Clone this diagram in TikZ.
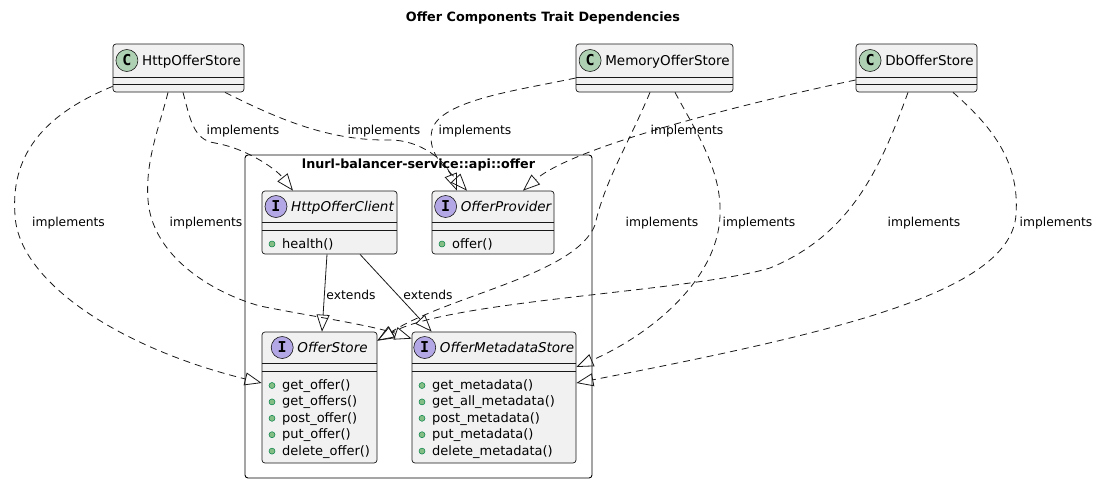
\documentclass[tikz,border=0pt]{standalone}
\usepackage{fontspec}
\setmainfont{DejaVu Sans}
\setmonofont{DejaVu Sans Mono}
\usetikzlibrary{arrows.meta,calc}
\definecolor{ink}{HTML}{181818}
\definecolor{boxfill}{HTML}{F1F1F1}
\definecolor{cgreen}{HTML}{ADD1B2}
\definecolor{ipurple}{HTML}{B4A7E5}
\definecolor{mfill}{HTML}{84BE84}
\definecolor{mdraw}{HTML}{038048}
\tikzset{
  umlbox/.style={draw=ink, fill=boxfill, line width=0.7pt, rounded corners=3pt, inner sep=0pt},
  pkgbox/.style={draw=black, line width=0.9pt, rounded corners=3pt, inner sep=0pt},
  sepline/.style={draw=ink, line width=0.6pt},
  hdrtxt/.style={inner sep=0pt, font=\fontsize{13.5}{16}\selectfont},
  icon/.style={circle, draw=ink, line width=0.6pt, minimum size=22pt, inner sep=0pt, font=\ttfamily\bfseries\fontsize{15}{15}\selectfont},
  methtxt/.style={inner sep=0pt, anchor=base west, font=\fontsize{13}{16}\selectfont},
  bullet/.style={circle, fill=mfill, draw=mdraw, line width=0.5pt, minimum size=6pt, inner sep=0pt},
  lbl/.style={inner sep=0pt, font=\fontsize{12.3}{15}\selectfont},
  realize/.style={draw=ink, line width=0.8pt, dash pattern=on 7pt off 5pt, -{Triangle[open,length=17pt,width=13pt]}},
  extend/.style={draw=ink, line width=0.8pt, -{Triangle[open,length=17pt,width=13pt]}}
}
% header: name, xcenter, baseline, letter, fill, text
\newcommand{\umlhdr}[6]{%
  \node[hdrtxt, anchor=base] (#1) at (#2+13, #3) {#6};
  \node[icon, fill=#5] (#1i) at ($(#1.base west)+(-15,-5)$) {#4};
}
% method: name, box west x, baseline, text
\newcommand{\umlmeth}[4]{%
  \node[methtxt] (#1) at (#2+20, #3) {#4};
  \node[bullet] (#1b) at (#2+10, #3-4) {};
}
\begin{document}
\begin{tikzpicture}[x=1pt,y=-1pt]
\useasboundingbox (0,0) rectangle (1100,483);

% title
\node[inner sep=0pt, font=\bfseries\fontsize{12.8}{15}\selectfont] (title) at (543,18) {Offer Components Trait Dependencies};

% package
\node[pkgbox, minimum width=347pt, minimum height=323pt] (pkg) at (418.5,316.5) {};
\node[inner sep=0pt, font=\bfseries\fontsize{12.7}{15}\selectfont] (pkgT) at (418.5,165) {lnurl-balancer-service::api::offer};

% classes
\node[umlbox, minimum width=131pt, minimum height=48pt] (hos) at (178.5,68) {};
\draw[sepline] (hos.west |- 0,77) -- (hos.east |- 0,77);
\draw[sepline] (hos.west |- 0,84) -- (hos.east |- 0,84);
\umlhdr{hosN}{178.5}{65.5}{C}{cgreen}{HttpOfferStore}

\node[umlbox, minimum width=157pt, minimum height=48pt] (mos) at (654.5,68) {};
\draw[sepline] (mos.west |- 0,77) -- (mos.east |- 0,77);
\draw[sepline] (mos.west |- 0,84) -- (mos.east |- 0,84);
\umlhdr{mosN}{654.5}{65.5}{C}{cgreen}{MemoryOfferStore}

\node[umlbox, minimum width=121pt, minimum height=48pt] (dbs) at (916.5,68) {};
\draw[sepline] (dbs.west |- 0,77) -- (dbs.east |- 0,77);
\draw[sepline] (dbs.west |- 0,84) -- (dbs.east |- 0,84);
\umlhdr{dbsN}{916.5}{65.5}{C}{cgreen}{DbOfferStore}

% interfaces
\node[umlbox, minimum width=135pt, minimum height=63pt] (hoc) at (329.5,222.5) {};
\draw[sepline] (hoc.west |- 0,222) -- (hoc.east |- 0,222);
\draw[sepline] (hoc.west |- 0,230) -- (hoc.east |- 0,230);
\umlhdr{hocN}{329.5}{211.5}{I}{ipurple}{\itshape HttpOfferClient}
\umlmeth{hocM}{262}{248}{health()}

\node[umlbox, minimum width=122pt, minimum height=63pt] (op) at (493,222.5) {};
\draw[sepline] (op.west |- 0,222) -- (op.east |- 0,222);
\draw[sepline] (op.west |- 0,230) -- (op.east |- 0,230);
\umlhdr{opN}{493}{211.5}{I}{ipurple}{\itshape OfferProvider}
\umlmeth{opM}{432}{248}{offer()}

\node[umlbox, minimum width=115pt, minimum height=131pt] (os) at (319.5,397.5) {};
\draw[sepline] (os.west |- 0,363) -- (os.east |- 0,363);
\draw[sepline] (os.west |- 0,371) -- (os.east |- 0,371);
\umlhdr{osN}{319.5}{352.5}{I}{ipurple}{\itshape OfferStore}
\umlmeth{osM1}{262}{389.5}{get\_offer()}
\umlmeth{osM2}{262}{405.9}{get\_offers()}
\umlmeth{osM3}{262}{422.3}{post\_offer()}
\umlmeth{osM4}{262}{438.7}{put\_offer()}
\umlmeth{osM5}{262}{455.1}{delete\_offer()}

\node[umlbox, minimum width=164pt, minimum height=131pt] (oms) at (494,397.5) {};
\draw[sepline] (oms.west |- 0,363) -- (oms.east |- 0,363);
\draw[sepline] (oms.west |- 0,371) -- (oms.east |- 0,371);
\umlhdr{omsN}{494}{352.5}{I}{ipurple}{\itshape OfferMetadataStore}
\umlmeth{omsM1}{412}{389.5}{get\_metadata()}
\umlmeth{omsM2}{412}{405.9}{get\_all\_metadata()}
\umlmeth{omsM3}{412}{422.3}{post\_metadata()}
\umlmeth{omsM4}{412}{438.7}{put\_metadata()}
\umlmeth{omsM5}{412}{455.1}{delete\_metadata()}

% realizations
\draw[realize] ([yshift=6pt]hos.south west) .. controls (50,112) and (10,150) .. (15,215)
  .. controls (18,280) and (116,347) .. ([yshift=14.5pt]os.west);
\draw[realize] ([xshift=-10.5pt]hos.south) .. controls (160,125) and (145,160) .. (148,200)
  .. controls (152,255) and (210,292) .. (260,306)
  .. controls (310,316) and (370,325) .. ([yshift=-7pt]oms.north west);
\draw[realize] ([xshift=4.5pt]hos.south) .. controls (190,118) and (193,140) .. (215,143)
  .. controls (245,148) and (275,168) .. ([xshift=-36.5pt]hoc.north);
\draw[realize] ([xshift=46.5pt]hos.south) .. controls (280,120) and (330,141) .. (390,140)
  .. controls (420,140) and (445,160) .. ([xshift=-36pt]op.north);
\draw[realize] ([yshift=-10pt]mos.west) .. controls (520,90) and (440,100) .. (432,130)
  .. controls (426,155) and (450,172) .. ([xshift=-26pt]op.north);
\draw[realize] ([yshift=-12pt]dbs.west) .. controls (760,100) and (575,145) .. ([xshift=30pt]op.north);
\draw[realize] ([xshift=-4.5pt]mos.south) .. controls (628,145) and (605,180) .. (595,225)
  .. controls (575,275) and (450,295) .. ([yshift=-9pt]os.north east);
\draw[realize] ([xshift=-8.5pt]dbs.south) .. controls (880,170) and (850,235) .. (770,268)
  .. controls (690,292) and (450,300) .. ([yshift=-9pt]os.north east);
\draw[realize] ([xshift=20.5pt]mos.south) .. controls (695,130) and (722,170) .. (720,215)
  .. controls (718,280) and (650,335) .. ([yshift=30.5pt]oms.east);
\draw[realize] ([xshift=36.5pt]dbs.south) .. controls (990,125) and (1020,160) .. (1016,215)
  .. controls (1010,290) and (850,330) .. ([yshift=14.5pt]oms.east);

% extends
\draw[extend] ([xshift=-2.5pt]hoc.south) -- ([xshift=2.5pt]os.north);
\draw[extend] ([xshift=30.5pt]hoc.south) -- ([xshift=20pt]oms.north west);

% labels
\node[lbl] (l1) at (68.5,223) {implements};
\node[lbl] (l2) at (206,223) {implements};
\node[lbl] (l3) at (243,131) {implements};
\node[lbl] (l4) at (384,131) {implements};
\node[lbl] (l5) at (475,131) {implements};
\node[lbl] (l6) at (687,131) {implements};
\node[lbl] (l7) at (662,223) {implements};
\node[lbl] (l8) at (759,223) {implements};
\node[lbl] (l9) at (924,223) {implements};
\node[lbl] (l10) at (1056,223) {implements};
\node[lbl] (e1) at (351,295) {extends};
\node[lbl] (e2) at (428,295) {extends};
\end{tikzpicture}
\end{document}
